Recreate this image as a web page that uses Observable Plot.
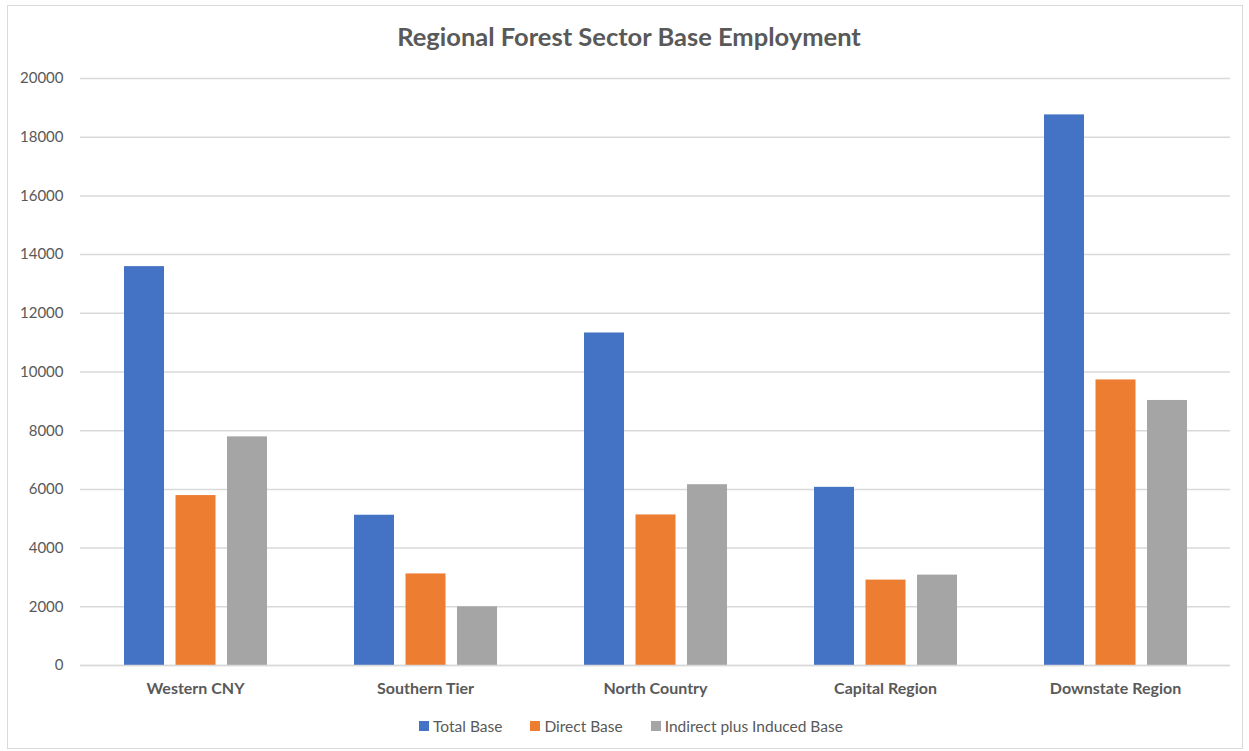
<!DOCTYPE html>
<html>
<head>
<meta charset="utf-8">
<script src="https://cdn.jsdelivr.net/npm/d3@7"></script>
<script src="https://cdn.jsdelivr.net/npm/@observablehq/plot@0.6"></script>
<style>
  body { margin: 0; background: #fff; font-family: Lato, "Open Sans", sans-serif; }
  #wrap { position: relative; width: 1249px; height: 751px; overflow: hidden; }
  #frame { position: absolute; left: 7px; top: 5px; width: 1236px; height: 744px; border: 1px solid #d9d9d9; box-sizing: border-box; }
  #title { position: absolute; top: 21px; left: 0; width: 1258px; text-align: center; font: bold 25.5px Lato, sans-serif; color: #595959; }
  #chart { position: absolute; left: 0; top: 0; }
  #legend { position: absolute; top: 717px; left: 0; width: 1262px; display: flex; justify-content: center; gap: 28px; font: 15.5px Lato, sans-serif; color: #595959; }
  .item { display: flex; align-items: center; gap: 4px; }
  .sw { width: 10px; height: 10px; display: inline-block; }
</style>
</head>
<body>
<div id="wrap">
  <div id="frame"></div>
  <div id="chart"></div>
  <div id="title">Regional Forest Sector Base Employment</div>
  <div id="legend"></div>
</div>
<script>
const categories = ["Western CNY", "Southern Tier", "North Country", "Capital Region", "Downstate Region"];
const seriesNames = ["Total Base", "Direct Base", "Indirect plus Induced Base"];
const seriesColors = ["#4472C4", "#ED7D31", "#A5A5A5"];
const totalBase = [13590, 5120, 11330, 6070, 18760];
const directBase = [5790, 3120, 5130, 2910, 9730];
const indirectBase = [7790, 2000, 6160, 3080, 9030];
const yTicks = [0, 2000, 4000, 6000, 8000, 10000, 12000, 14000, 16000, 18000, 20000];

const seriesValues = [totalBase, directBase, indirectBase];
const rows = [];
seriesNames.forEach((s, si) => categories.forEach((c, ci) => rows.push({category: c, series: s, value: seriesValues[si][ci]})));

const barW = 40, step = 51.5, band = 230;
const offsets = [-step, 0, step];
const inset = (band - barW) / 2;

const plot = Plot.plot({
  width: 1249,
  height: 710,
  marginTop: 78,
  marginBottom: 45,
  marginLeft: 80,
  marginRight: 19,
  style: { fontFamily: "Lato, sans-serif", fontSize: "15px", color: "#595959", background: "transparent" },
  x: { domain: categories, padding: 0, label: null, tickSize: 0, tickPadding: 17 },
  y: { domain: [0, 20000], ticks: yTicks, tickFormat: d => String(d), label: null, tickSize: 0, tickPadding: 17 },
  color: { domain: seriesNames, range: seriesColors },
  marks: [
    Plot.ruleY(yTicks, { stroke: "#d9d9d9", strokeWidth: 1.5 }),
    ...seriesNames.map((s, i) => Plot.barY(rows.filter(r => r.series === s), {
      x: "category", y: "value", fill: "series",
      insetLeft: inset, insetRight: inset, dx: offsets[i] + 0.5
    })),
    Plot.ruleY([0], { stroke: "#d9d9d9", strokeWidth: 1.5 })
  ]
});
document.getElementById("chart").appendChild(plot);
d3.select(plot).selectAll("[aria-label='x-axis tick label'] text").style("font-weight", "bold").style("font-size", "16px");

const legend = document.getElementById("legend");
seriesNames.forEach((s, i) => {
  const it = document.createElement("div");
  it.className = "item";
  it.innerHTML = `<span class="sw" style="background:${seriesColors[i]}"></span><span>${s}</span>`;
  legend.appendChild(it);
});
</script>
</body>
</html>
